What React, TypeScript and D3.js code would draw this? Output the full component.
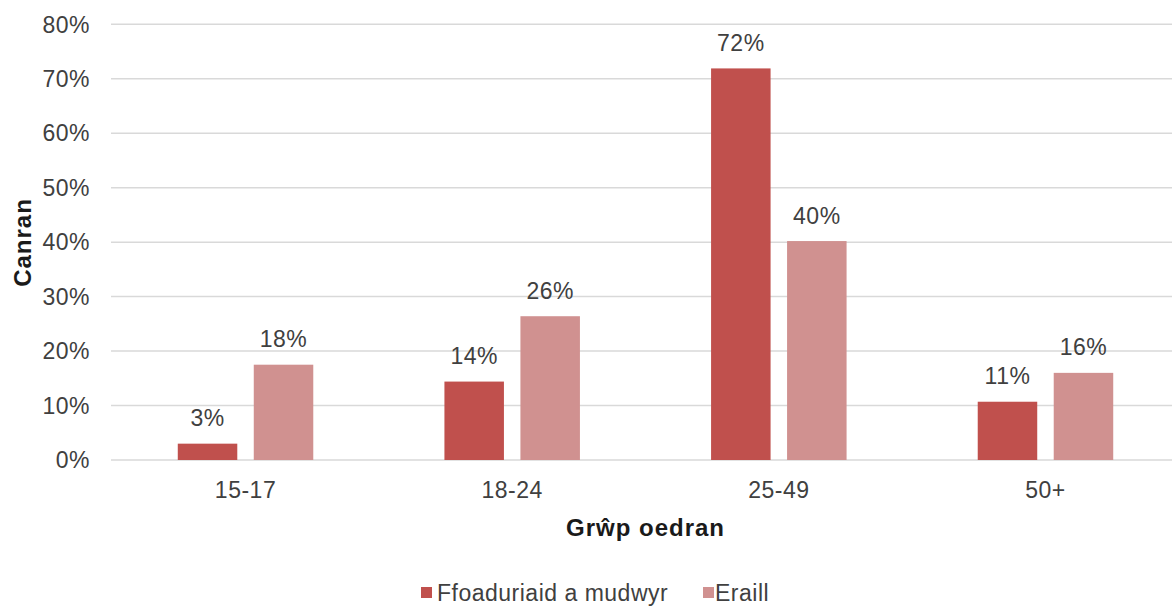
import React from "react";
import * as d3 from "d3";

const categories = ["15-17", "18-24", "25-49", "50+"];
const seriesNames = ["Ffoaduriaid a mudwyr", "Eraill"];
const refugeesValues = [3.0, 14.4, 71.9, 10.7];
const othersValues = [17.5, 26.4, 40.2, 16.0];
const yTicks = [0, 10, 20, 30, 40, 50, 60, 70, 80];
const colors = ["#C0504D", "#D09190"];

const W = 1172;
const H = 607;
const textColor = "#404040";
const font = "'Liberation Sans', Arial, sans-serif";
const fs = 23;
const ls = 0.5;

export default function App() {
  const y = d3.scaleLinear().domain([0, 80]).range([460, 24.3]);
  const x0 = d3.scaleBand<string>().domain(categories).range([112.2, 1178.8]);
  const x1 = d3
    .scaleBand<string>()
    .domain(seriesNames)
    .range([0, 135.5])
    .paddingInner(0.217);
  const series = [refugeesValues, othersValues];
  const groupW = 135.5;

  return (
    <svg
      width={W}
      height={H}
      style={{ position: "absolute", left: 0, top: 0, background: "#fff" }}
      fontFamily={font}
    >
      <rect x={0} y={0} width={W} height={H} fill="#fff" />
      {yTicks.map((t) => (
        <g key={t}>
          <line
            x1={111}
            x2={W}
            y1={y(t)}
            y2={y(t)}
            stroke="#D9D9D9"
            strokeWidth={1.5}
          />
          <text
            x={90}
            y={y(t) + 8.2}
            textAnchor="end"
            fontSize={fs}
            letterSpacing={ls}
            fill={textColor}
          >
            {t}%
          </text>
        </g>
      ))}
      {categories.map((c, i) => {
        const cx = (x0(c) as number) + x0.bandwidth() / 2;
        const gx = cx - groupW / 2;
        return (
          <g key={c}>
            {seriesNames.map((s, j) => {
              const v = series[j][i];
              const bx = gx + (x1(s) as number);
              return (
                <g key={s}>
                  <rect
                    x={bx}
                    y={y(v)}
                    width={x1.bandwidth()}
                    height={y(0) - y(v)}
                    fill={colors[j]}
                  />
                  <text
                    x={bx + x1.bandwidth() / 2}
                    y={y(v) - 17.5}
                    textAnchor="middle"
                    fontSize={fs}
                    letterSpacing={ls}
                    fill={textColor}
                  >
                    {Math.round(v)}%
                  </text>
                </g>
              );
            })}
            <text
              x={cx}
              y={498}
              textAnchor="middle"
              fontSize={fs}
              letterSpacing={ls}
              fill={textColor}
            >
              {c}
            </text>
          </g>
        );
      })}
      <text
        x={645.5}
        y={535.5}
        textAnchor="middle"
        fontSize={24}
        fontWeight="bold"
        letterSpacing={1}
        fill="#1a1a1a"
      >
        Grŵp oedran
      </text>
      <text
        transform={`translate(31,242.5) rotate(-90)`}
        textAnchor="middle"
        fontSize={24}
        fontWeight="bold"
        letterSpacing={1}
        fill="#1a1a1a"
      >
        Canran
      </text>
      <g>
        <rect x={421} y={587} width={11} height={11} fill={colors[0]} />
        <text x={437} y={601} fontSize={fs} letterSpacing={ls} fill={textColor}>
          {seriesNames[0]}
        </text>
        <rect x={703} y={587} width={11} height={11} fill={colors[1]} />
        <text x={715} y={601} fontSize={fs} letterSpacing={ls} fill={textColor}>
          {seriesNames[1]}
        </text>
      </g>
    </svg>
  );
}
